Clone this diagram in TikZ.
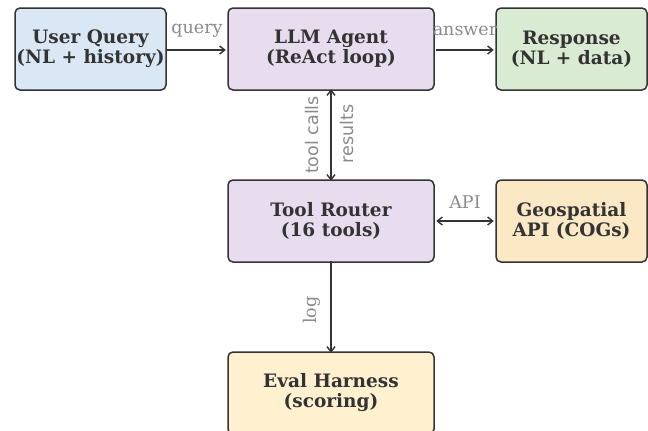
\documentclass[tikz,border=0pt]{standalone}
\usepackage{fontspec}
\setmainfont{DejaVu Serif}
\newfontfamily\labsans{DejaVu Sans}
\usetikzlibrary{arrows.meta}
\definecolor{edge}{HTML}{333333}
\definecolor{cblue}{HTML}{DAE8F5}
\definecolor{cpurple}{HTML}{E8DDEF}
\definecolor{cgreen}{HTML}{D9EBD3}
\definecolor{corange}{HTML}{FBE8C5}
\definecolor{cyellow}{HTML}{FFF1CF}
\definecolor{labgray}{HTML}{8A8A8A}
\tikzset{
  box/.style={draw=edge, line width=1.5pt, rounded corners=5pt, minimum height=82pt,
    align=center, font=\fontsize{18.5}{20}\selectfont\bfseries, text=edge, inner sep=0pt},
  wide/.style={box, minimum width=206pt},
  narrow/.style={box, minimum width=151pt},
  conn/.style={draw=edge, line width=1.4pt, -{Straight Barb[length=5pt,width=8pt]}},
  dconn/.style={draw=edge, line width=1.4pt, {Straight Barb[length=5pt,width=8pt]}-{Straight Barb[length=5pt,width=8pt]}},
  lab/.style={text=labgray, font=\fontsize{17.5}{19}\selectfont, inner sep=0pt},
  slab/.style={lab, rotate=90, font=\labsans\fontsize{17.5}{19}\selectfont},
}
\begin{document}
\begin{tikzpicture}[x=1pt,y=-1pt]
\useasboundingbox (0,0) rectangle (648,431);
\node[narrow, fill=cblue] (uq) at (90.5,49) {User Query\\(NL + history)};
\node[wide, fill=cpurple] (llm) at (331,49) {LLM Agent\\(ReAct loop)};
\node[narrow, fill=cgreen] (resp) at (571.5,49) {Response\\(NL + data)};
\node[wide, fill=cpurple] (tr) at (331,221) {Tool Router\\(16 tools)};
\node[narrow, fill=corange] (geo) at (571.5,221) {Geospatial\\API (COGs)};
\node[wide, fill=cyellow] (ev) at (331,393) {Eval Harness\\(scoring)};

\draw[conn] ([yshift=-1pt]uq.east) -- ([xshift=-1.5pt,yshift=-1pt]llm.west);
\draw[conn] ([xshift=1.5pt,yshift=-1pt]llm.east) -- ([xshift=-1.5pt,yshift=-1pt]resp.west);
\draw[dconn] ([yshift=1.5pt]llm.south) -- ([yshift=-1.5pt]tr.north);
\draw[dconn] ([xshift=1.5pt]tr.east) -- ([xshift=-1.5pt]geo.west);
\draw[conn] ([yshift=1.5pt]tr.south) -- ([yshift=-1.5pt]ev.north);

\node[lab] (lq) at (197,31) {query};
\node[lab] (la) at (465,31) {answer};
\node[lab] (lapi) at (465,202) {API};
\node[slab] (ltc) at (312,135) {tool calls};
\node[slab] (lres) at (347,134) {results};
\node[lab, rotate=90] (llog) at (312,310) {log};
\end{tikzpicture}
\end{document}
